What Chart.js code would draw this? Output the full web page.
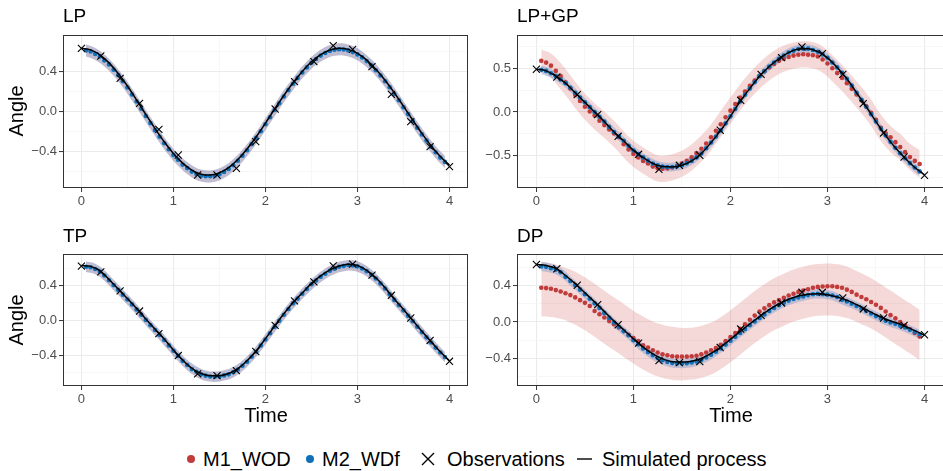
<!DOCTYPE html>
<html>
<head>
<meta charset="utf-8">
<script src="https://cdn.jsdelivr.net/npm/chart.js@4.4.1/dist/chart.umd.min.js"></script>
<style>
  html, body { margin: 0; padding: 0; background: #ffffff; }
  body { width: 943px; height: 471px; position: relative; overflow: hidden;
         font-family: "Liberation Sans", Arial, Helvetica, sans-serif; }
  canvas { position: absolute; }
  .ptitle { position: absolute; font-size: 19px; line-height: 19px; color: #000; white-space: nowrap; }
  .atitle { position: absolute; font-size: 20px; line-height: 20px; color: #000; white-space: nowrap; }
  .ylab { transform: translate(-50%, -50%) rotate(-90deg); }
  .xlab { transform: translate(-50%, 0); }
  .lt { position: absolute; top: 449px; font-size: 20px; line-height: 20px; color: #000; white-space: nowrap; }
  .lkey { position: absolute; }
</style>
</head>
<body>
<canvas id="cLP"></canvas>
<canvas id="cLPGP"></canvas>
<canvas id="cTP"></canvas>
<canvas id="cDP"></canvas>

<div class="ptitle" style="left:63px; top:6px;">LP</div>
<div class="ptitle" style="left:517px; top:6px;">LP+GP</div>
<div class="ptitle" style="left:63px; top:226px;">TP</div>
<div class="ptitle" style="left:517px; top:226px;">DP</div>
<div class="atitle ylab" style="left:16px; top:111px;">Angle</div>
<div class="atitle ylab" style="left:16px; top:320px;">Angle</div>
<div class="atitle xlab" style="left:266px; top:405px;">Time</div>
<div class="atitle xlab" style="left:731px; top:405px;">Time</div>

<!-- legend -->
<div class="lkey" style="left:187px; top:455px; width:8px; height:8px; border-radius:50%; background:#C23B3B;"></div>
<div class="lt" style="left:203px;">M1_WOD</div>
<div class="lkey" style="left:306px; top:455px; width:8px; height:8px; border-radius:50%; background:#0F70B7;"></div>
<div class="lt" style="left:322px;">M2_WDf</div>
<svg class="lkey" style="left:421px; top:452px;" width="14" height="14" viewBox="0 0 14 14"><path d="M1 1 L13 13 M13 1 L1 13" stroke="#000" stroke-width="1.4"/></svg>
<div class="lt" style="left:447px;">Observations</div>
<svg class="lkey" style="left:576px; top:452px;" width="17" height="14" viewBox="0 0 17 14"><path d="M1 7 L16 7" stroke="#000" stroke-width="1.4"/></svg>
<div class="lt" style="left:602px;">Simulated process</div>

<script>
// ---------------- time grids ----------------
const obsTimes = [0, 0.2105, 0.4211, 0.6316, 0.8421, 1.0526, 1.2632, 1.4737, 1.6842, 1.8947,
  2.1053, 2.3158, 2.5263, 2.7368, 2.9474, 3.1579, 3.3684, 3.5789, 3.7895, 4.0];
const curveTimes = [0, 0.1, 0.2, 0.3, 0.4, 0.5, 0.6, 0.7, 0.8, 0.9, 1.0, 1.1, 1.2, 1.3, 1.4, 1.5, 1.6, 1.7, 1.8, 1.9,
  2.0, 2.1, 2.2, 2.3, 2.4, 2.5, 2.6, 2.7, 2.8, 2.9, 3.0, 3.1, 3.2, 3.3, 3.4, 3.5, 3.6, 3.7, 3.8, 3.9, 4.0];
const dotTimes = [0.05, 0.10, 0.15, 0.20, 0.25, 0.30, 0.35, 0.40, 0.45, 0.50, 0.55, 0.60, 0.65, 0.70, 0.75, 0.80,
  0.85, 0.90, 0.95, 1.00, 1.05, 1.10, 1.15, 1.20, 1.25, 1.30, 1.35, 1.40, 1.45, 1.50, 1.55, 1.60, 1.65, 1.70,
  1.75, 1.80, 1.85, 1.90, 1.95, 2.00, 2.05, 2.10, 2.15, 2.20, 2.25, 2.30, 2.35, 2.40, 2.45, 2.50, 2.55, 2.60,
  2.65, 2.70, 2.75, 2.80, 2.85, 2.90, 2.95, 3.00, 3.05, 3.10, 3.15, 3.20, 3.25, 3.30, 3.35, 3.40, 3.45, 3.50,
  3.55, 3.60, 3.65, 3.70, 3.75, 3.80, 3.85, 3.90, 3.95];
const bandTimes = [0.05, 0.15, 0.25, 0.35, 0.45, 0.55, 0.65, 0.75, 0.85, 0.95, 1.05, 1.15, 1.25, 1.35, 1.45,
  1.55, 1.65, 1.75, 1.85, 1.95, 2.05, 2.15, 2.25, 2.35, 2.45, 2.55, 2.65, 2.75, 2.85, 2.95, 3.05, 3.15, 3.25,
  3.35, 3.45, 3.55, 3.65, 3.75, 3.85, 3.95];

// ---------------- axis ticks ----------------
const xTicks = [0, 0.5, 1, 1.5, 2, 2.5, 3, 3.5, 4];
const xMajor = [0, 1, 2, 3, 4];
const yTicks04 = [-0.6, -0.4, -0.2, 0, 0.2, 0.4, 0.6];
const yMajor04 = [-0.4, 0, 0.4];
const yTicks05 = [-0.75, -0.5, -0.25, 0, 0.25, 0.5, 0.75];
const yMajor05 = [-0.5, 0, 0.5];

// ---------------- LP ----------------
const lpObs = [0.634, 0.557, 0.334, 0.084, -0.176, -0.433, -0.633, -0.633, -0.566, -0.300,
  0.027, 0.300, 0.500, 0.660, 0.624, 0.450, 0.174, -0.100, -0.350, -0.550];
const lpCurve = [0.635, 0.618, 0.568, 0.488, 0.382, 0.257, 0.117, -0.028, -0.169, -0.301, -0.418, -0.514,
  -0.584, -0.625, -0.634, -0.612, -0.559, -0.478, -0.373, -0.250, -0.114, 0.027, 0.162, 0.289, 0.403, 0.499,
  0.571, 0.617, 0.635, 0.623, 0.583, 0.516, 0.424, 0.314, 0.189, 0.055, -0.083, -0.217, -0.341, -0.449, -0.535];
const lpM2 = [0.612, 0.603, 0.578, 0.553, 0.513, 0.473, 0.420, 0.367, 0.305, 0.242, 0.172, 0.102, 0.030,
  -0.043, -0.114, -0.184, -0.250, -0.316, -0.375, -0.433, -0.481, -0.529, -0.564, -0.599, -0.623, -0.640,
  -0.645, -0.645, -0.640, -0.625, -0.602, -0.572, -0.535, -0.491, -0.440, -0.386, -0.325, -0.262, -0.195,
  -0.125, -0.055, 0.017, 0.085, 0.152, 0.216, 0.279, 0.338, 0.393, 0.443, 0.489, 0.527, 0.561, 0.587, 0.607,
  0.620, 0.625, 0.622, 0.613, 0.596, 0.573, 0.543, 0.506, 0.464, 0.414, 0.362, 0.304, 0.244, 0.179, 0.114,
  0.045, -0.024, -0.093, -0.160, -0.227, -0.289, -0.351, -0.405, -0.459, -0.502];
const lpBandHi = [0.672, 0.638, 0.573, 0.480, 0.365, 0.232, 0.090, -0.054, -0.190, -0.315, -0.421, -0.504,
  -0.563, -0.585, -0.580, -0.542, -0.475, -0.380, -0.265, -0.135, 0.005, 0.145, 0.276, 0.398, 0.503, 0.587,
  0.647, 0.680, 0.682, 0.656, 0.603, 0.524, 0.422, 0.304, 0.174, 0.036, -0.100, -0.229, -0.345, -0.442];
const lpBandLo = [0.552, 0.518, 0.453, 0.360, 0.245, 0.112, -0.030, -0.174, -0.310, -0.435, -0.541, -0.624,
  -0.683, -0.705, -0.700, -0.662, -0.595, -0.500, -0.385, -0.255, -0.115, 0.025, 0.156, 0.278, 0.383, 0.467,
  0.527, 0.560, 0.562, 0.536, 0.483, 0.404, 0.302, 0.184, 0.054, -0.084, -0.220, -0.349, -0.465, -0.562];

// ---------------- LP+GP ----------------
const gpObs = [0.489, 0.400, 0.199, -0.030, -0.278, -0.484, -0.656, -0.610, -0.495, -0.209,
  0.134, 0.431, 0.622, 0.744, 0.668, 0.431, 0.096, -0.240, -0.515, -0.724];
const gpCurve = [0.49, 0.47, 0.41, 0.33, 0.22, 0.11, 0.00, -0.11, -0.23, -0.33, -0.44, -0.52, -0.59, -0.625,
  -0.63, -0.61, -0.56, -0.475, -0.35, -0.21, -0.05, 0.12, 0.27, 0.41, 0.52, 0.61, 0.68, 0.72, 0.725, 0.69,
  0.62, 0.51, 0.38, 0.22, 0.06, -0.11, -0.27, -0.41, -0.53, -0.635, -0.72];
const gpM1 = [0.585, 0.565, 0.53, 0.47, 0.41, 0.34, 0.27, 0.195, 0.125, 0.06, 0.005, -0.04, -0.10, -0.15,
  -0.20, -0.245, -0.29, -0.37, -0.43, -0.48, -0.52, -0.56, -0.59, -0.625, -0.645, -0.65, -0.645, -0.635,
  -0.615, -0.59, -0.56, -0.52, -0.47, -0.42, -0.36, -0.29, -0.215, -0.14, -0.06, 0.015, 0.09, 0.165, 0.235,
  0.30, 0.36, 0.415, 0.465, 0.51, 0.55, 0.585, 0.61, 0.63, 0.645, 0.655, 0.66, 0.655, 0.65, 0.635, 0.60,
  0.555, 0.50, 0.445, 0.39, 0.33, 0.265, 0.20, 0.135, 0.065, -0.01, -0.09, -0.18, -0.245, -0.29, -0.345,
  -0.40, -0.46, -0.515, -0.56, -0.595];
const gpM2 = [0.482, 0.47, 0.443, 0.41, 0.372, 0.33, 0.277, 0.22, 0.165, 0.11, 0.055, 0.0, -0.055, -0.11,
  -0.17, -0.23, -0.28, -0.33, -0.387, -0.44, -0.482, -0.52, -0.557, -0.59, -0.61, -0.625, -0.63, -0.63,
  -0.622, -0.61, -0.588, -0.56, -0.52, -0.475, -0.415, -0.35, -0.282, -0.21, -0.13, -0.05, 0.035, 0.12,
  0.197, 0.27, 0.342, 0.41, 0.467, 0.52, 0.567, 0.61, 0.647, 0.68, 0.702, 0.72, 0.725, 0.725, 0.71, 0.69,
  0.657, 0.62, 0.567, 0.51, 0.447, 0.38, 0.302, 0.22, 0.14, 0.06, -0.025, -0.11, -0.19, -0.27, -0.342,
  -0.41, -0.472, -0.53, -0.585, -0.635, -0.68];
const gpM1Hi = [0.715, 0.67, 0.56, 0.42, 0.275, 0.155, 0.05, -0.05, -0.16, -0.28, -0.37, -0.44, -0.495,
  -0.495, -0.465, -0.41, -0.32, -0.21, -0.065, 0.09, 0.24, 0.385, 0.51, 0.615, 0.70, 0.76, 0.795, 0.81, 0.80,
  0.75, 0.65, 0.54, 0.415, 0.285, 0.14, -0.03, -0.16, -0.25, -0.365, -0.435];
const gpM1Lo = [0.455, 0.39, 0.26, 0.12, -0.025, -0.145, -0.25, -0.35, -0.46, -0.58, -0.67, -0.74, -0.795,
  -0.795, -0.765, -0.71, -0.62, -0.51, -0.365, -0.21, -0.06, 0.085, 0.21, 0.315, 0.40, 0.46, 0.495, 0.51,
  0.50, 0.45, 0.35, 0.24, 0.115, -0.015, -0.16, -0.33, -0.46, -0.55, -0.665, -0.755];
const gpM2Hi = [0.532, 0.493, 0.422, 0.327, 0.215, 0.105, -0.005, -0.12, -0.23, -0.337, -0.432, -0.507,
  -0.56, -0.58, -0.572, -0.538, -0.47, -0.365, -0.232, -0.08, 0.085, 0.247, 0.392, 0.517, 0.617, 0.697,
  0.752, 0.775, 0.76, 0.707, 0.617, 0.497, 0.352, 0.19, 0.025, -0.14, -0.292, -0.422, -0.535, -0.63];
const gpM2Lo = [0.432, 0.393, 0.322, 0.227, 0.115, 0.005, -0.105, -0.22, -0.33, -0.437, -0.532, -0.607,
  -0.66, -0.68, -0.672, -0.638, -0.57, -0.465, -0.332, -0.18, -0.015, 0.147, 0.292, 0.417, 0.517, 0.597,
  0.652, 0.675, 0.66, 0.607, 0.517, 0.397, 0.252, 0.09, -0.075, -0.24, -0.392, -0.522, -0.635, -0.73];

// ---------------- TP ----------------
const tpObs = [0.623, 0.557, 0.338, 0.107, -0.153, -0.404, -0.615, -0.634, -0.577, -0.358,
  -0.058, 0.223, 0.442, 0.626, 0.646, 0.519, 0.288, 0.027, -0.231, -0.470];
const tpCurve = [0.63, 0.62, 0.57, 0.47, 0.36, 0.25, 0.135, 0.015, -0.10, -0.215, -0.34, -0.455, -0.55,
  -0.61, -0.635, -0.635, -0.61, -0.555, -0.465, -0.35, -0.21, -0.065, 0.075, 0.205, 0.315, 0.425, 0.51, 0.58,
  0.625, 0.645, 0.63, 0.575, 0.49, 0.375, 0.245, 0.125, 0.0, -0.125, -0.245, -0.36, -0.465];
const tpM2 = [0.615, 0.61, 0.59, 0.56, 0.515, 0.46, 0.405, 0.35, 0.295, 0.24, 0.183, 0.125, 0.065, 0.005,
  -0.055, -0.11, -0.168, -0.225, -0.288, -0.35, -0.408, -0.465, -0.513, -0.56, -0.59, -0.62, -0.635, -0.645,
  -0.648, -0.645, -0.632, -0.62, -0.595, -0.565, -0.522, -0.475, -0.418, -0.36, -0.29, -0.22, -0.148, -0.075,
  -0.005, 0.065, 0.13, 0.195, 0.25, 0.305, 0.36, 0.415, 0.458, 0.50, 0.535, 0.57, 0.593, 0.615, 0.625, 0.635,
  0.63, 0.62, 0.595, 0.565, 0.523, 0.48, 0.423, 0.365, 0.30, 0.235, 0.175, 0.115, 0.052, -0.01, -0.073,
  -0.135, -0.195, -0.255, -0.313, -0.37, -0.422];
const tpBandHi = [0.675, 0.65, 0.575, 0.465, 0.355, 0.243, 0.125, 0.005, -0.108, -0.228, -0.348, -0.453,
  -0.53, -0.575, -0.588, -0.572, -0.535, -0.462, -0.358, -0.23, -0.088, 0.055, 0.19, 0.31, 0.42, 0.518,
  0.595, 0.653, 0.685, 0.69, 0.655, 0.583, 0.483, 0.36, 0.235, 0.112, -0.013, -0.135, -0.253, -0.362];
const tpBandLo = [0.555, 0.53, 0.455, 0.345, 0.235, 0.123, 0.005, -0.115, -0.228, -0.348, -0.468, -0.573,
  -0.65, -0.695, -0.708, -0.692, -0.655, -0.582, -0.478, -0.35, -0.208, -0.065, 0.07, 0.19, 0.30, 0.398,
  0.475, 0.533, 0.565, 0.57, 0.535, 0.463, 0.363, 0.24, 0.115, -0.008, -0.133, -0.255, -0.373, -0.482];

// ---------------- DP ----------------
const dpObs = [0.631, 0.584, 0.403, 0.190, -0.030, -0.231, -0.423, -0.445, -0.434, -0.280,
  -0.077, 0.073, 0.209, 0.326, 0.326, 0.264, 0.143, 0.044, -0.037, -0.140];
const dpCurve = [0.63, 0.62, 0.59, 0.51, 0.42, 0.32, 0.22, 0.115, 0.01, -0.085, -0.185, -0.275, -0.35,
  -0.405, -0.435, -0.44, -0.43, -0.40, -0.345, -0.275, -0.19, -0.105, -0.02, 0.06, 0.135, 0.20, 0.25, 0.285,
  0.305, 0.31, 0.30, 0.275, 0.24, 0.19, 0.135, 0.08, 0.03, -0.005, -0.045, -0.095, -0.145];
const dpM1 = [0.375, 0.372, 0.365, 0.35, 0.335, 0.315, 0.295, 0.27, 0.24, 0.21, 0.175, 0.12, 0.085, 0.05,
  0.01, -0.025, -0.06, -0.10, -0.14, -0.175, -0.21, -0.255, -0.28, -0.31, -0.335, -0.355, -0.365, -0.375,
  -0.38, -0.38, -0.38, -0.375, -0.37, -0.355, -0.335, -0.31, -0.285, -0.25, -0.21, -0.165, -0.12, -0.075,
  -0.025, 0.025, 0.07, 0.115, 0.15, 0.185, 0.215, 0.24, 0.265, 0.29, 0.31, 0.33, 0.345, 0.36, 0.375, 0.385,
  0.39, 0.392, 0.392, 0.385, 0.375, 0.355, 0.33, 0.30, 0.275, 0.25, 0.22, 0.19, 0.155, 0.115, 0.075, 0.04,
  0.0, -0.04, -0.08, -0.12, -0.16];
const dpM2 = [0.61, 0.605, 0.59, 0.575, 0.545, 0.495, 0.45, 0.405, 0.355, 0.305, 0.255, 0.205, 0.155, 0.10,
  0.045, -0.005, -0.055, -0.10, -0.145, -0.20, -0.245, -0.29, -0.33, -0.365, -0.395, -0.42, -0.437, -0.45,
  -0.455, -0.455, -0.452, -0.445, -0.432, -0.415, -0.39, -0.36, -0.325, -0.29, -0.248, -0.205, -0.163, -0.12,
  -0.078, -0.035, 0.005, 0.045, 0.083, 0.12, 0.153, 0.185, 0.21, 0.235, 0.253, 0.27, 0.28, 0.295, 0.305,
  0.31, 0.305, 0.30, 0.29, 0.275, 0.243, 0.225, 0.20, 0.175, 0.148, 0.12, 0.093, 0.065, 0.04, 0.015, -0.005,
  -0.02, -0.04, -0.06, -0.085, -0.11, -0.135];
const dpM1Hi = [0.66, 0.645, 0.615, 0.575, 0.52, 0.455, 0.38, 0.305, 0.235, 0.16, 0.09, 0.03, -0.015,
  -0.045, -0.06, -0.065, -0.055, -0.025, 0.02, 0.09, 0.17, 0.255, 0.34, 0.415, 0.48, 0.53, 0.575, 0.605,
  0.63, 0.64, 0.64, 0.625, 0.585, 0.535, 0.48, 0.415, 0.345, 0.275, 0.205, 0.135];
const dpM1Lo = [0.06, 0.055, 0.035, -0.005, -0.06, -0.125, -0.20, -0.275, -0.345, -0.42, -0.49, -0.55,
  -0.595, -0.625, -0.64, -0.635, -0.625, -0.595, -0.55, -0.48, -0.40, -0.315, -0.23, -0.155, -0.09, -0.04,
  0.005, 0.035, 0.06, 0.07, 0.07, 0.055, 0.025, -0.025, -0.07, -0.135, -0.205, -0.275, -0.345, -0.415];
const dpM2Hi = [0.66, 0.64, 0.595, 0.50, 0.405, 0.305, 0.205, 0.095, -0.005, -0.095, -0.195, -0.28, -0.345,
  -0.387, -0.405, -0.402, -0.382, -0.34, -0.275, -0.198, -0.113, -0.028, 0.055, 0.133, 0.203, 0.26, 0.303,
  0.33, 0.355, 0.355, 0.34, 0.293, 0.25, 0.198, 0.143, 0.09, 0.045, 0.01, -0.035, -0.085];
const dpM2Lo = [0.56, 0.54, 0.495, 0.40, 0.305, 0.205, 0.105, -0.005, -0.105, -0.195, -0.295, -0.38, -0.445,
  -0.487, -0.505, -0.502, -0.482, -0.44, -0.375, -0.298, -0.213, -0.128, -0.045, 0.033, 0.103, 0.16, 0.203,
  0.23, 0.255, 0.255, 0.24, 0.193, 0.15, 0.098, 0.043, -0.01, -0.055, -0.09, -0.135, -0.185];

// ---------------- styles ----------------
const RED = '#C23B3B';
const BLUE = '#0F70B7';
const RED_BAND = 'rgba(205, 60, 60, 0.2)';
const BLUE_BAND = 'rgba(40, 110, 190, 0.26)';
const FONT = '"Liberation Sans", Arial, Helvetica, sans-serif';

const pts = (ts, vs) => ts.map((t, i) => ({ x: t, y: vs[i] }));
const near = (v, arr) => arr.some(a => Math.abs(a - v) < 1e-6);

const borderPlugin = {
  id: 'panelBorder',
  afterDatasetsDraw(chart) {
    const a = chart.chartArea, c = chart.ctx;
    c.save();
    c.strokeStyle = '#333333';
    c.lineWidth = 1;
    c.strokeRect(Math.round(a.left) + 0.5, Math.round(a.top) + 0.5,
      Math.round(a.right - a.left) - 1, Math.round(a.bottom - a.top) - 1);
    c.restore();
  }
};

function makePanel(id, rect, yr, yTicks, yMajor, d) {
  const Lw = 50, Tp = 10, Rp = 4, Bh = 24;
  const W = rect.R - rect.L + Lw + Rp, H = rect.B - rect.T + Tp + Bh;
  const cv = document.getElementById(id);
  cv.style.left = (rect.L - Lw) + 'px';
  cv.style.top = (rect.T - Tp) + 'px';
  cv.style.width = W + 'px';
  cv.style.height = H + 'px';
  cv.width = W; cv.height = H;

  const datasets = [];
  datasets.push({ label: 'Observations', data: pts(obsTimes, d.obs), showLine: false,
    pointStyle: 'crossRot', pointRadius: 5, pointBorderWidth: 1.1, pointBorderColor: '#000',
    pointBackgroundColor: '#000', borderColor: '#000' });
  datasets.push({ label: 'Simulated process', data: pts(curveTimes, d.curve), showLine: true,
    borderColor: '#000', borderWidth: 1.5, pointRadius: 0, cubicInterpolationMode: 'monotone', fill: false });
  datasets.push({ label: 'M2_WDf', data: pts(dotTimes, d.m2), showLine: false,
    pointRadius: 2.3, pointBorderWidth: 0, pointBackgroundColor: BLUE, borderColor: BLUE });
  if (d.m1) datasets.push({ label: 'M1_WOD', data: pts(dotTimes, d.m1), showLine: false,
    pointRadius: 2.3, pointBorderWidth: 0, pointBackgroundColor: RED, borderColor: RED });
  const band = (hi, lo, col, lab) => {
    datasets.push({ label: lab + ' hi', data: pts(bandTimes, hi), showLine: true, borderWidth: 0,
      borderColor: 'rgba(0,0,0,0)', pointRadius: 0, tension: 0.4, fill: '+1', backgroundColor: col });
    datasets.push({ label: lab + ' lo', data: pts(bandTimes, lo), showLine: true, borderWidth: 0,
      borderColor: 'rgba(0,0,0,0)', pointRadius: 0, tension: 0.4, fill: false });
  };
  band(d.m2Hi, d.m2Lo, BLUE_BAND, 'M2 band');
  band(d.m1Hi, d.m1Lo, RED_BAND, 'M1 band');

  return new Chart(cv, {
    type: 'line',
    data: { datasets },
    plugins: [borderPlugin],
    options: {
      responsive: false, animation: false, devicePixelRatio: 1,
      layout: { padding: { left: 0, top: Tp, right: Rp, bottom: 0 } },
      plugins: { legend: { display: false }, tooltip: { enabled: false }, title: { display: false } },
      scales: {
        x: {
          type: 'linear', min: -0.2, max: 4.2,
          afterBuildTicks: ax => { ax.ticks = xTicks.map(v => ({ value: v })); },
          afterFit: s => { s.height = Bh; },
          border: { display: false },
          grid: {
            color: c => near(c.tick.value, xMajor) ? '#EBEBEB' : '#F3F3F3',
            lineWidth: c => near(c.tick.value, xMajor) ? 1.1 : 0.7,
            tickColor: c => near(c.tick.value, xMajor) ? '#333333' : 'rgba(0,0,0,0)',
            tickLength: 4, tickWidth: 1
          },
          ticks: {
            autoSkip: false, maxRotation: 0, padding: 2, color: '#4D4D4D',
            font: { family: FONT, size: 13 },
            callback: v => near(v, xMajor) ? String(Math.round(v)) : ''
          }
        },
        y: {
          type: 'linear', min: yr[0], max: yr[1],
          afterBuildTicks: ax => { ax.ticks = yTicks.map(v => ({ value: v })); },
          afterFit: s => { s.width = Lw; },
          border: { display: false },
          grid: {
            color: c => near(c.tick.value, yMajor) ? '#EBEBEB' : '#F3F3F3',
            lineWidth: c => near(c.tick.value, yMajor) ? 1.1 : 0.7,
            tickColor: c => near(c.tick.value, yMajor) ? '#333333' : 'rgba(0,0,0,0)',
            tickLength: 4, tickWidth: 1
          },
          ticks: {
            autoSkip: false, padding: 2, color: '#4D4D4D',
            font: { family: FONT, size: 13 },
            callback: v => near(v, yMajor) ? v.toFixed(1).replace('-', '\u2212') : ''
          }
        }
      }
    }
  });
}

makePanel('cLP', { L: 63, T: 35, R: 470, B: 188 }, [-0.763, 0.767], yTicks04, yMajor04,
  { obs: lpObs, curve: lpCurve, m2: lpM2, m1: null, m2Hi: lpBandHi, m2Lo: lpBandLo, m1Hi: lpBandHi, m1Lo: lpBandLo });
makePanel('cLPGP', { L: 517, T: 35, R: 946, B: 188 }, [-0.87, 0.881], yTicks05, yMajor05,
  { obs: gpObs, curve: gpCurve, m2: gpM2, m1: gpM1, m2Hi: gpM2Hi, m2Lo: gpM2Lo, m1Hi: gpM1Hi, m1Lo: gpM1Lo });
makePanel('cTP', { L: 63, T: 254, R: 470, B: 386 }, [-0.754, 0.762], yTicks04, yMajor04,
  { obs: tpObs, curve: tpCurve, m2: tpM2, m1: null, m2Hi: tpBandHi, m2Lo: tpBandLo, m1Hi: tpBandHi, m1Lo: tpBandLo });
makePanel('cDP', { L: 517, T: 254, R: 946, B: 386 }, [-0.702, 0.746], yTicks04, yMajor04,
  { obs: dpObs, curve: dpCurve, m2: dpM2, m1: dpM1, m2Hi: dpM2Hi, m2Lo: dpM2Lo, m1Hi: dpM1Hi, m1Lo: dpM1Lo });
</script>
</body>
</html>
